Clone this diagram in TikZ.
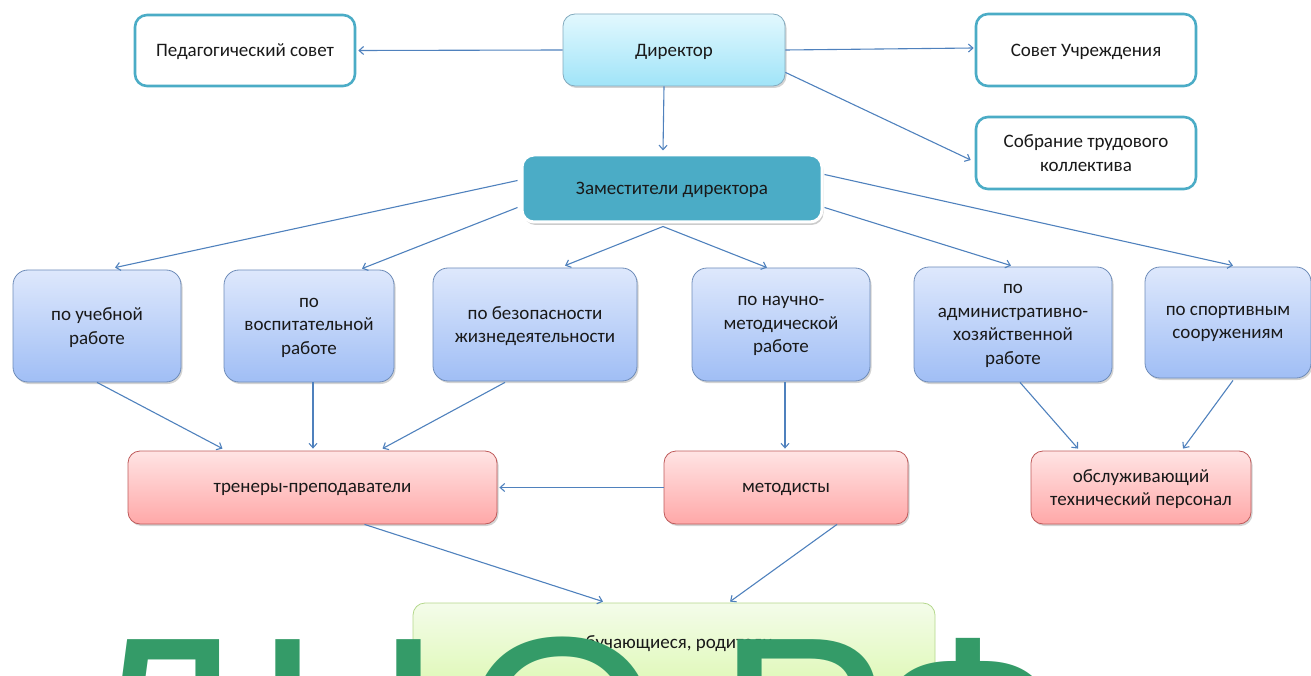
\documentclass[tikz,border=0pt]{standalone}
\usepackage{fontspec}
\setmainfont{Carlito}
\newfontfamily\wmfont{Liberation Sans}
\usetikzlibrary{shadows,arrows.meta,calc}
\definecolor{tealc}{RGB}{75,172,198}
\definecolor{arrowc}{RGB}{79,129,189}
\definecolor{wmgreen}{RGB}{52,155,104}
\definecolor{txt}{RGB}{25,25,25}
\definecolor{dirtop}{RGB}{226,248,254}
\definecolor{dirbot}{RGB}{160,228,248}
\definecolor{dirline}{RGB}{130,170,190}
\definecolor{bluetop}{RGB}{222,232,252}
\definecolor{bluebot}{RGB}{160,190,245}
\definecolor{blueline}{RGB}{110,140,185}
\definecolor{redtop}{RGB}{255,228,228}
\definecolor{redbot}{RGB}{255,168,168}
\definecolor{redline}{RGB}{190,90,90}
\definecolor{greentop}{RGB}{244,252,234}
\definecolor{greenbot}{RGB}{220,248,176}
\definecolor{greenline}{RGB}{180,215,140}
\begin{document}
\begin{tikzpicture}[x=1pt,y=-1pt,
  base/.style={rounded corners=12pt, align=center, inner sep=0pt, text=txt, text depth=0pt,
    font=\fontsize{19}{23.5}\selectfont},
  whitebox/.style={base, draw=tealc, line width=2.6pt, fill=white},
  dirbox/.style={base, draw=dirline, line width=0.8pt, top color=dirtop, bottom color=dirbot,
    drop shadow={shadow xshift=1.5pt, shadow yshift=-2pt, opacity=0.35}},
  zambox/.style={base, draw=white, line width=3pt, fill=tealc,
    drop shadow={shadow xshift=1.5pt, shadow yshift=-3pt, opacity=0.4}},
  bluebox/.style={base, rounded corners=15pt, draw=blueline, line width=0.8pt, top color=bluetop, bottom color=bluebot,
    drop shadow={shadow xshift=1.5pt, shadow yshift=-2pt, opacity=0.35}},
  redbox/.style={base, draw=redline, line width=0.8pt, top color=redtop, bottom color=redbot,
    drop shadow={shadow xshift=1.5pt, shadow yshift=-2pt, opacity=0.35}},
  greenbox/.style={base, draw=greenline, line width=0.8pt, top color=greentop, bottom color=greenbot},
  arr/.style={draw=arrowc, line width=1.1pt, -{Straight Barb[length=4.5pt,width=8pt]}}
]
\useasboundingbox (0,0) rectangle (1311,676);
% top row
\node[whitebox, minimum width=220pt, minimum height=71pt] (ped) at (245,50.5) {Педагогический совет};
\node[dirbox, minimum width=222pt, minimum height=72pt] (dir) at (674,50) {Директор};
\node[whitebox, minimum width=220pt, minimum height=72pt] (sovet) at (1086,50) {Совет Учреждения};
\node[whitebox, minimum width=220pt, minimum height=72pt] (sobr) at (1086,153) {Собрание трудового\\коллектива};
% deputies
\node[zambox, minimum width=300pt, minimum height=67pt] (zam) at (672,188.5) {Заместители директора};
% blue row
\node[bluebox, minimum width=168pt, minimum height=112pt] (b1) at (97,326) {по учебной\\работе};
\node[bluebox, minimum width=170pt, minimum height=112pt] (b2) at (309,326) {по\\воспитательной\\работе};
\node[bluebox, minimum width=204pt, minimum height=113pt] (b3) at (535,324.5) {по безопасности\\жизнедеятельности};
\node[bluebox, minimum width=178pt, minimum height=113pt] (b4) at (781,324.5) {по научно-\\методической\\работе};
\node[bluebox, minimum width=198pt, minimum height=115pt] (b5) at (1013,324.5) {по\\административно-\\хозяйственной\\работе};
\node[bluebox, minimum width=166pt, minimum height=111pt] (b6) at (1228,322.5) {по спортивным\\сооружениям};
% red row
\node[redbox, minimum width=369pt, minimum height=73pt] (r1) at (312.5,487.5) {тренеры-преподаватели};
\node[redbox, minimum width=244pt, minimum height=73pt] (r2) at (786,487.5) {методисты};
\node[redbox, minimum width=220pt, minimum height=73pt] (r3) at (1141,487.5) {обслуживающий\\технический персонал};
% green
\node[greenbox, minimum width=522pt, minimum height=94pt] (g) at (674,650) {};
\node[base, anchor=center] (gt) at (674,642) {обучающиеся, родители};
% arrows
\draw[arr] (dir.west) -- ($(ped.east)+(2,0)$);
\draw[arr] (dir.east) -- ($(sovet.west)+(-1,-2)$);
\draw[arr] ($(dir.south east)+(0,-14)$) -- ($(sobr.west)+(-4,7)$);
\draw[arr] ($(dir.south)+(-10,0)$) -- ($(zam.north)+(-9,-3)$);
\draw[arr] ($(zam.west)+(-3,-8)$) -- ($(b1.north)+(18,-2)$);
\draw[arr] ($(zam.west)+(-3,19)$) -- ($(b2.north)+(53,-1)$);
\draw[arr] ($(zam.south)+(-9,3)$) -- ($(b3.north)+(30,-2)$);
\draw[arr] ($(zam.south)+(-9,3)$) -- ($(b4.north)+(-14,0)$);
\draw[arr] ($(zam.east)+(1,19)$) -- ($(b5.north)+(-2,-1)$);
\draw[arr] ($(zam.east)+(1,-14)$) -- ($(b6.north)+(5,-1)$);
\draw[arr] (b1.south) -- ($(r1.north)+(-90,-2)$);
\draw[arr] ($(b2.south)+(4,0)$) -- ($(r1.north)+(0.5,-2)$);
\draw[arr] ($(b3.south)+(-30,1)$) -- ($(r1.north)+(70,-2)$);
\draw[arr] ($(b4.south)+(4,1)$) -- ($(r2.north)+(-1,-2)$);
\draw[arr] (r2.west) -- ($(r1.east)+(2,0)$);
\draw[arr] ($(b5.south)+(7,0)$) -- ($(r3.north)+(-63,-2)$);
\draw[arr] ($(b6.south)+(5,2)$) -- ($(r3.north)+(42,-2)$);
\draw[arr] ($(r1.south)+(52,0)$) -- ($(g.north)+(-71,-1)$);
\draw[arr] ($(r2.south)+(51,0)$) -- ($(g.north)+(56,-1)$);
% watermark
\node[anchor=base west, inner sep=0pt, text=wmgreen, font=\wmfont\fontsize{260}{260}\selectfont] (wm) at (70,818) {Д\kern8ptН\kern20ptО\kern-20pt.Р\kern-20ptФ};
\end{tikzpicture}
\end{document}
